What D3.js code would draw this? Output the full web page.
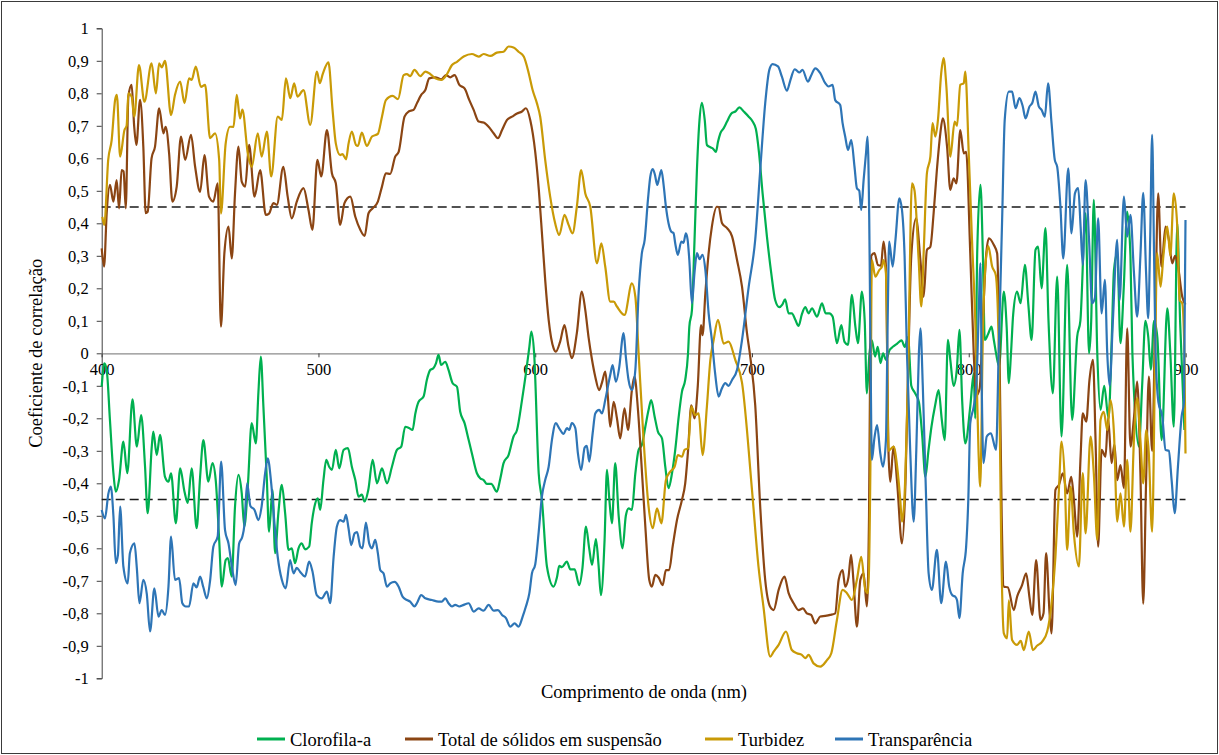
<!DOCTYPE html>
<html>
<head>
<meta charset="utf-8">
<script src="https://cdn.jsdelivr.net/npm/d3@7"></script>
<style>
  html, body { margin: 0; padding: 0; background: #fff; }
  svg { display: block; }
</style>
</head>
<body>
<svg id="chart" width="1219" height="755"></svg>
<script>
// Correlation between reflectance and water-quality parameters, 400–900 nm
const seriesNames = ["Clorofila-a", "Total de sólidos em suspensão", "Turbidez", "Transparência"];
const seriesColors = ["#00b050", "#8b4513", "#c99a06", "#2e75b6"];
const xTicks = [400, 500, 600, 700, 800, 900];
const yTicks = [-1, -0.9, -0.8, -0.7, -0.6, -0.5, -0.4, -0.3, -0.2, -0.1, 0, 0.1, 0.2, 0.3, 0.4, 0.5, 0.6, 0.7, 0.8, 0.9, 1];
const thresholds = [0.45, -0.45];

// [wavelength (nm), r]
const clorofila = [[400,-0.103],[401.2,-0.031],[402.3,-0.051],[403.8,-0.205],[405.4,-0.369],[406.5,-0.426],[408,-0.39],[410,-0.272],[411.8,-0.369],[414.2,-0.142],[416.2,-0.287],[418.2,-0.19],[420,-0.349],[421.2,-0.492],[423.1,-0.287],[423.8,-0.241],[425.4,-0.313],[426.9,-0.251],[429.2,-0.38],[430.8,-0.395],[432,-0.369],[434.2,-0.523],[436.2,-0.354],[438.2,-0.426],[439.7,-0.46],[441.5,-0.354],[443.8,-0.538],[445.4,-0.38],[446.9,-0.267],[449.2,-0.395],[451.1,-0.338],[452.6,-0.39],[454.2,-0.574],[455.4,-0.718],[457.2,-0.636],[458.2,-0.63],[460,-0.687],[461.5,-0.472],[463.1,-0.374],[464.6,-0.43],[465.8,-0.533],[467.4,-0.41],[469.2,-0.215],[471.1,-0.277],[472.3,-0.12],[473.4,-0.01],[474.6,-0.164],[476.2,-0.39],[477.2,-0.549],[478.8,-0.42],[480,-0.615],[481.5,-0.492],[483.1,-0.405],[484.6,-0.49],[486.2,-0.605],[487.7,-0.6],[489.2,-0.646],[490.8,-0.6],[492.3,-0.585],[493.8,-0.603],[495.7,-0.595],[496.9,-0.523],[498.5,-0.462],[499.7,-0.446],[500.8,-0.482],[502.3,-0.39],[503.6,-0.328],[505,-0.35],[506.2,-0.359],[508,-0.297],[509.6,-0.354],[511.6,-0.297],[513.6,-0.292],[515.4,-0.349],[517,-0.39],[518.5,-0.441],[520,-0.435],[521.3,-0.456],[523,-0.42],[525,-0.328],[527,-0.4],[529.3,-0.354],[531.6,-0.4],[533.9,-0.349],[536.2,-0.297],[538.2,-0.287],[540,-0.226],[541.8,-0.23],[543.4,-0.236],[544.7,-0.185],[546.2,-0.149],[548.5,-0.133],[550,-0.082],[551.6,-0.051],[553,-0.046],[554.2,-0.031],[555.4,-0.005],[556.6,-0.036],[558.5,-0.026],[560,-0.051],[561.9,-0.092],[563.9,-0.103],[565.4,-0.18],[567.4,-0.215],[569.3,-0.267],[570.8,-0.308],[573.1,-0.369],[574.7,-0.385],[576.2,-0.39],[577.7,-0.402],[579.7,-0.402],[582.3,-0.426],[583.9,-0.385],[585.4,-0.338],[587.7,-0.313],[590,-0.256],[591.6,-0.236],[593.9,-0.144],[595.7,-0.062],[597.3,0.02],[598.2,0.067],[599.5,0],[601.6,-0.369],[603.1,-0.451],[605.4,-0.656],[608.5,-0.718],[610,-0.69],[611.1,-0.654],[612.3,-0.658],[614.6,-0.641],[616.2,-0.665],[618.2,-0.665],[620.3,-0.713],[621.8,-0.66],[623.4,-0.533],[624.9,-0.6],[626.2,-0.651],[628,-0.572],[629.2,-0.65],[630.3,-0.744],[632,-0.574],[633.1,-0.359],[634.2,-0.45],[635.4,-0.523],[636.9,-0.338],[638.5,-0.5],[640.3,-0.6],[641.8,-0.5],[643.1,-0.477],[644.6,-0.482],[646.2,-0.369],[647.7,-0.297],[649.2,-0.282],[650.8,-0.226],[652.3,-0.174],[653.5,-0.144],[655.1,-0.195],[656.6,-0.241],[658.5,-0.262],[660,-0.349],[661.5,-0.415],[663.1,-0.369],[664.6,-0.297],[666.2,-0.195],[667.7,-0.118],[669.2,-0.082],[670.5,0],[671.1,0.082],[672.3,0.133],[673.5,0.349],[674.6,0.564],[675.8,0.718],[676.9,0.771],[678.2,0.718],[679.2,0.641],[680.8,0.634],[682,0.63],[683.4,0.62],[684.3,0.65],[685.4,0.677],[686.9,0.692],[688.5,0.713],[690.5,0.738],[692.3,0.744],[694.2,0.757],[696.2,0.744],[698.5,0.728],[700.3,0.713],[701.8,0.69],[703.2,0.62],[704.9,0.492],[706.9,0.359],[708.9,0.246],[710.7,0.164],[712.6,0.142],[714,0.15],[715.3,0.166],[716.9,0.123],[718.4,0.123],[720,0.103],[721.5,0.084],[723,0.12],[724.6,0.142],[726.1,0.123],[727.7,0.138],[730,0.113],[732.3,0.154],[734,0.123],[735.7,0.123],[737.2,0.113],[739.2,0.031],[741.2,0.087],[742.7,0.035],[744.3,0.026],[746.1,0.18],[747.7,0.082],[748.9,0.031],[750.7,0.19],[752,0.1],[753,-0.123],[754.2,0],[755.3,0.04],[756.8,-0.01],[758,0.02],[759.3,-0.03],[760.5,0],[761.8,-0.02],[763.5,0.01],[765,0.02],[767,0.03],[769,0.04],[770.5,0.02],[772,0.05],[773.5,-0.1],[775,-0.12],[777,-0.15],[778.5,-0.25],[780,-0.38],[781.4,-0.3],[782.8,-0.226],[784.5,-0.16],[786.1,-0.113],[787.5,-0.2],[788.9,-0.267],[790.4,0.041],[791.5,-0.02],[793,-0.1],[794.5,-0.05],[795.7,0.072],[797,-0.15],[798.4,-0.277],[800.7,-0.164],[802.3,-0.062],[803,-0.2],[803.9,0.308],[805.4,0.518],[806.5,0.308],[807.4,0.041],[809,0.06],[810.5,0.082],[811.6,0.04],[812.6,0],[814,-0.04],[816.2,0.19],[817.5,0.08],[818.5,-0.092],[819.5,0],[820.5,0.12],[822.3,0.19],[823.9,0.154],[825.9,0.272],[827.5,0.15],[829,0.041],[830.8,0.318],[832,0.328],[833.6,0.2],[835.4,0.385],[836.8,0.1],[838.8,-0.123],[840.8,0.236],[842.8,-0.256],[845.4,0.272],[847.7,-0.205],[850,0.05],[851.5,0.1],[853.9,0.431],[855.5,0],[856.5,0.1],[857.7,0.472],[859.3,0],[860.8,-0.174],[862.5,-0.1],[864.5,-0.2],[866,0.05],[867,0.256],[868.5,0.308],[870,0.031],[871.5,0.2],[873.1,0.436],[874.6,0.3],[875.5,0],[878.5,-0.287],[880,-0.1],[881.5,0.1],[882.8,0.051],[884,-0.05],[885.5,0.1],[887,0.05],[889,-0.267],[891.6,0.138],[893,0],[894.6,-0.226],[896.2,0.4],[897.5,0.1],[899.5,-0.236]];

const solidos = [[400,0.323],[401.1,0.267],[402.3,0.431],[403.8,0.518],[405.4,0.467],[406.9,0.533],[408,0.446],[409.2,0.564],[410.1,0.56],[411.1,0.446],[412.3,0.79],[413.8,0.826],[415,0.697],[416,0.641],[417.7,0.78],[419.2,0.636],[420.3,0.431],[421.2,0.435],[423,0.6],[424.6,0.636],[426.5,0.754],[428.5,0.677],[429.5,0.697],[431.1,0.615],[432.6,0.467],[434.6,0.513],[436.6,0.667],[438.5,0.595],[441.2,0.672],[443.1,0.574],[445.4,0.497],[447.4,0.61],[449.5,0.482],[451.5,0.467],[453.5,0.523],[455,0.082],[456.6,0.308],[458.5,0.39],[460,0.292],[461.5,0.492],[463.1,0.636],[464.6,0.528],[466.2,0.513],[468,0.641],[470.5,0.482],[473.1,0.564],[475.7,0.426],[477.2,0.43],[479.2,0.462],[480.8,0.457],[483.8,0.574],[485.8,0.482],[487.7,0.415],[490,0.467],[493.1,0.508],[495.4,0.441],[497.2,0.38],[499.5,0.595],[501.3,0.544],[503.9,0.687],[506.2,0.554],[508,0.523],[510,0.395],[512,0.462],[514.7,0.482],[517,0.42],[519.3,0.38],[521.3,0.361],[523.1,0.431],[525,0.446],[527.4,0.467],[529.3,0.513],[531.1,0.554],[533.1,0.552],[535.4,0.605],[537,0.62],[539.7,0.728],[541.6,0.744],[543.9,0.749],[545.4,0.769],[547.4,0.795],[549.3,0.81],[551.1,0.846],[553.9,0.849],[556.7,0.843],[558.8,0.856],[560.8,0.849],[562.8,0.856],[565,0.826],[567.4,0.815],[569.6,0.779],[571.6,0.749],[573.9,0.713],[576.2,0.71],[578.5,0.697],[580.8,0.677],[582.8,0.662],[584.7,0.687],[587,0.718],[589.3,0.728],[591.6,0.738],[593.9,0.744],[595.7,0.754],[597.7,0.718],[600,0.62],[601.7,0.5],[603.2,0.36],[604.6,0.226],[606.2,0.103],[608.5,0.015],[609.5,0.005],[611.5,0.036],[613.5,0.087],[615.4,0.02],[616.9,-0.015],[619.2,0.062],[621.5,0.19],[623.1,0.133],[624.6,0.05],[626.2,-0.02],[627.7,-0.072],[629.5,-0.113],[630.8,-0.09],[632.3,-0.056],[633.5,-0.133],[634.6,-0.226],[636.2,-0.149],[637.7,-0.2],[639.2,-0.262],[641.2,-0.169],[642.8,-0.236],[644.6,-0.113],[645.8,-0.072],[647.4,-0.174],[648.9,-0.328],[650.8,-0.533],[652.6,-0.697],[653.8,-0.718],[655.4,-0.682],[656.9,-0.69],[658.8,-0.713],[660.3,-0.667],[661.8,-0.667],[663.4,-0.595],[665.4,-0.513],[667.7,-0.451],[669.2,-0.4],[670.5,-0.3],[672,-0.16],[673.5,-0.2],[675,-0.1],[676.5,0.087],[677.2,0.056],[678.5,0.185],[680,0.308],[681.5,0.39],[683.8,0.451],[684.6,0.45],[686.2,0.4],[688.5,0.385],[690.8,0.36],[693.1,0.287],[695.4,0.205],[697.7,0.062],[699.2,-0.01],[701.5,-0.16],[703.8,-0.472],[706.1,-0.697],[708.4,-0.78],[710,-0.79],[712.3,-0.728],[715,-0.687],[716.9,-0.738],[719.2,-0.769],[721.5,-0.79],[723.5,-0.785],[725.3,-0.8],[727.3,-0.805],[729.2,-0.831],[731.5,-0.81],[733.8,-0.808],[736.1,-0.805],[738.4,-0.8],[740,-0.697],[741.8,-0.667],[743,-0.718],[744.5,-0.69],[745.7,-0.62],[746.9,-0.708],[748.4,-0.841],[750,-0.697],[751.5,-0.677],[753,-0.779],[754,-0.5],[755,0.3],[756.5,0.308],[758.1,0.272],[759.5,0.27],[760.7,0.344],[761.8,0.267],[763,-0.308],[763.8,-0.395],[765.3,-0.287],[767,-0.4],[769.2,-0.585],[770.8,-0.4],[772,-0.062],[773.5,0.3],[775.7,0.415],[777.7,0.287],[779.2,0.174],[780.7,0.318],[782.3,0.328],[783.8,0.431],[785.3,0.564],[786.9,0.677],[788,0.723],[790,0.636],[791.5,0.503],[793,0.538],[794.3,0.523],[796.1,0.687],[797.7,0.615],[798.8,0.62],[800.7,0.308],[802.3,0],[803.5,-0.13],[805,-0.11],[806.5,0.1],[808,0.3],[809.3,0.354],[811.6,0.333],[813.1,0.308],[814.2,0],[815.2,-0.5],[816.2,-0.718],[818,-0.72],[820.8,-0.79],[822.3,-0.749],[824.6,-0.713],[826.5,-0.677],[828,-0.75],[829.3,-0.805],[831.1,-0.636],[833.1,-0.82],[834.5,-0.8],[835.7,-0.615],[837.3,-0.8],[838.2,-0.862],[840,-0.42],[841.6,-0.405],[843.4,-0.369],[845.4,-0.431],[847.3,-0.38],[848.5,-0.45],[850,-0.564],[851.6,-0.318],[852.6,-0.185],[854.2,-0.21],[855.7,-0.082],[857.3,-0.02],[858.5,-0.267],[859.7,-0.595],[861.3,-0.297],[863.1,-0.318],[864.3,-0.2],[865.9,-0.338],[867.2,-0.28],[868.5,-0.39],[870,-0.344],[871.6,-0.415],[873.1,0.077],[874.6,-0.287],[876.2,-0.2],[877.7,-0.087],[879.2,-0.369],[880.5,-0.77],[881.8,-0.4],[883.1,-0.072],[884.6,-0.3],[886,0.1],[887.4,0.492],[888.9,0.267],[890.8,0.39],[892.3,0.35],[893.9,0.277],[895.2,0.3],[896.5,0.27],[898.5,0.174],[900,0.15]];

const turbidez = [[400.3,0.42],[401.2,0.395],[403,0.595],[404.6,0.656],[406.2,0.78],[407,0.795],[408.5,0.605],[410.5,0.687],[411.5,0.7],[412.3,0.8],[413.8,0.79],[415,0.728],[417.2,0.887],[419.7,0.774],[423,0.892],[425,0.8],[426.5,0.892],[427.7,0.88],[429.2,0.9],[432,0.733],[433.8,0.795],[436.2,0.836],[438.2,0.77],[440.3,0.846],[441.5,0.841],[443.4,0.882],[445.8,0.82],[447.7,0.826],[450,0.662],[452.3,0.677],[454.2,0.595],[455,0.43],[457.2,0.646],[459.2,0.697],[460.8,0.697],[462.3,0.795],[463.8,0.723],[464.9,0.75],[467.4,0.615],[469.2,0.574],[472,0.677],[473.8,0.605],[476.2,0.682],[478.2,0.544],[481.2,0.728],[483.1,0.718],[485,0.846],[487,0.785],[488.8,0.831],[490.3,0.79],[493.1,0.81],[496.2,0.703],[499.3,0.867],[500.6,0.831],[502,0.86],[504.6,0.895],[506.5,0.749],[508,0.646],[510,0.61],[511.1,0.613],[512.7,0.597],[513.9,0.646],[515.4,0.682],[517.3,0.641],[518.2,0.638],[520,0.679],[522.3,0.638],[524.7,0.667],[527.4,0.675],[529.3,0.728],[531.1,0.779],[534.2,0.792],[536.7,0.782],[539.3,0.856],[540.8,0.859],[542.3,0.853],[544.3,0.872],[547,0.853],[549.3,0.867],[551.6,0.859],[553.9,0.846],[556.7,0.841],[559.3,0.859],[561.6,0.887],[563.9,0.897],[567,0.913],[570.8,0.921],[573.9,0.913],[576.2,0.921],[579.3,0.915],[582.3,0.925],[585.4,0.928],[587.7,0.944],[590,0.941],[592.3,0.928],[594.7,0.913],[597,0.862],[598.8,0.81],[600.8,0.769],[602.3,0.728],[604.6,0.595],[606.9,0.482],[609.2,0.4],[611.1,0.364],[613.5,0.426],[615.4,0.395],[617.2,0.369],[619.2,0.451],[621.2,0.564],[623.1,0.492],[625.4,0.451],[628.5,0.277],[630.5,0.338],[632.3,0.267],[634.6,0.159],[636.2,0.159],[637.7,0.144],[641.2,0.118],[644.6,0.215],[646.2,0.174],[647.7,0],[650,-0.267],[652.3,-0.472],[654.2,-0.538],[656.2,-0.477],[658.2,-0.523],[660.3,-0.39],[662.3,-0.364],[664.3,-0.349],[665.8,-0.313],[667.7,-0.318],[668.9,-0.297],[670.5,-0.292],[672,-0.164],[673.8,-0.19],[675.4,-0.185],[677.2,-0.313],[679.2,-0.164],[680.8,-0.02],[682.3,0.04],[684.3,0.103],[686.9,0.03],[689.2,0.036],[692.3,-0.02],[695.4,-0.09],[700,-0.42],[703,-0.656],[705.3,-0.78],[708.4,-0.933],[710,-0.918],[712.3,-0.897],[715.7,-0.856],[718.4,-0.913],[720.7,-0.923],[723,-0.928],[724.6,-0.938],[726.1,-0.928],[728.4,-0.954],[731.5,-0.964],[734.6,-0.944],[736.6,-0.923],[739.2,-0.82],[741.8,-0.728],[743.8,-0.738],[746.1,-0.759],[748.4,-0.697],[750.4,-0.626],[752.3,-0.728],[753.5,-0.738],[754.6,-0.37],[755.3,0.287],[756.9,0.236],[758.7,0.256],[760,0.267],[760.7,0.287],[761.8,0.246],[763,-0.3],[765.3,-0.287],[767,-0.35],[768.4,-0.45],[769.2,-0.518],[770.3,-0.45],[772,-0.062],[773.8,0.523],[775,0.5],[776.9,0.287],[778.1,0.144],[779.2,0.308],[780.7,0.554],[782.3,0.605],[783.3,0.708],[784.6,0.667],[785.8,0.718],[787.3,0.862],[788.4,0.908],[789.7,0.82],[791.5,0.605],[793.5,0.713],[794.6,0.7],[796.1,0.826],[797.7,0.831],[798.4,0.867],[800,0.615],[801.5,0.349],[803,0.103],[804.5,-0.3],[805.3,-0.41],[806.5,0.05],[807.5,0.25],[809,0.33],[810.8,0.267],[812.5,0.24],[813.9,0],[815,-0.6],[816.2,-0.862],[817.7,-0.877],[818.5,-0.76],[820,-0.882],[822.3,-0.897],[824,-0.885],[825.4,-0.913],[827.7,-0.856],[829.6,-0.913],[831.5,-0.9],[833.9,-0.887],[836.2,-0.856],[838.2,-0.77],[840,-0.626],[841.6,-0.42],[842.8,-0.272],[844.3,-0.39],[845.4,-0.605],[847,-0.41],[848.5,-0.554],[850.8,-0.656],[852.6,-0.369],[853.9,-0.554],[856.2,-0.256],[857.7,-0.369],[859.3,-0.574],[860.8,-0.205],[862.3,-0.18],[863.9,-0.236],[865.4,-0.144],[867,-0.246],[868.5,-0.518],[870,-0.431],[871.6,-0.533],[873.1,-0.328],[874.6,-0.549],[876.2,-0.267],[877.7,-0.138],[879.2,-0.267],[880.5,-0.4],[881.9,-0.236],[883,-0.3],[884.6,-0.549],[886,0],[886.9,0.308],[888.5,0.205],[889.8,0.3],[891.6,0.39],[893,0.3],[894.6,0.492],[896.2,0.39],[897.3,0.164],[898.5,0.154],[899.5,0],[900,-0.308]];

const transparencia = [[400,-0.482],[401.5,-0.508],[403.1,-0.431],[404.2,-0.41],[405.4,-0.5],[406.5,-0.646],[407.5,-0.62],[408.5,-0.472],[410,-0.656],[412,-0.708],[413,-0.615],[415.1,-0.585],[416.2,-0.66],[417.4,-0.769],[419.2,-0.697],[420.8,-0.74],[422.3,-0.856],[424.3,-0.723],[426.2,-0.81],[427.7,-0.79],[429.2,-0.805],[430.8,-0.718],[432,-0.564],[433.8,-0.697],[435.7,-0.692],[437.2,-0.769],[438.8,-0.779],[440.3,-0.779],[442.3,-0.708],[443.8,-0.72],[445.4,-0.687],[446.9,-0.72],[448.5,-0.754],[450,-0.7],[451.5,-0.595],[453.5,-0.564],[455.1,-0.333],[456.9,-0.544],[458.5,-0.585],[460.3,-0.667],[461.8,-0.713],[463.4,-0.585],[464.9,-0.564],[465.8,-0.53],[467.1,-0.4],[468.6,-0.47],[470.5,-0.482],[472.3,-0.513],[473.8,-0.47],[475.4,-0.369],[476.6,-0.323],[478.2,-0.4],[479.7,-0.523],[481.2,-0.626],[483.1,-0.697],[484.9,-0.723],[486.9,-0.636],[488.5,-0.677],[490,-0.66],[491.5,-0.672],[493.8,-0.687],[495.7,-0.641],[497.2,-0.67],[499.2,-0.744],[501.5,-0.754],[503.9,-0.733],[505.4,-0.769],[507,-0.626],[508.5,-0.533],[510,-0.513],[511.6,-0.518],[512.7,-0.497],[513.9,-0.54],[515.1,-0.59],[516.7,-0.554],[517.8,-0.55],[519.3,-0.595],[520.3,-0.6],[521.9,-0.521],[523.4,-0.585],[524.7,-0.6],[526.2,-0.574],[527.4,-0.615],[528.5,-0.667],[530,-0.677],[531.6,-0.718],[533.1,-0.708],[535.1,-0.703],[537,-0.718],[538.8,-0.749],[540.8,-0.759],[542.3,-0.764],[544.3,-0.779],[545.4,-0.769],[547.4,-0.744],[549.3,-0.754],[552.3,-0.759],[555.4,-0.764],[557,-0.764],[558.5,-0.754],[560,-0.769],[561.6,-0.779],[563.1,-0.774],[565,-0.779],[567,-0.774],[569.3,-0.769],[571.6,-0.795],[573.9,-0.785],[576.2,-0.792],[578.5,-0.774],[580.8,-0.792],[582.8,-0.79],[584.7,-0.805],[586.5,-0.815],[588.5,-0.841],[590.5,-0.831],[592.3,-0.841],[594.2,-0.81],[595.7,-0.779],[597.3,-0.738],[598.5,-0.677],[600,-0.65],[601.6,-0.55],[603.1,-0.44],[604.6,-0.39],[606.2,-0.349],[607.7,-0.267],[609.5,-0.215],[611,-0.23],[613.1,-0.248],[614.6,-0.23],[615.7,-0.236],[616.9,-0.215],[618.5,-0.23],[619.7,-0.308],[621.2,-0.359],[622.8,-0.29],[623.8,-0.285],[624.9,-0.333],[626.5,-0.246],[627.7,-0.185],[629.5,-0.174],[630.8,-0.185],[632.3,-0.144],[633.5,-0.103],[634.6,-0.067],[635.7,-0.036],[637.2,-0.087],[638.8,-0.041],[640.3,0.05],[640.8,0.062],[641.8,-0.01],[643,-0.08],[644.6,-0.113],[646.2,-0.05],[647.7,0.185],[649.2,0.308],[650.5,0.349],[652,0.472],[653.1,0.544],[654.2,0.567],[655.2,0.55],[656.3,0.518],[657.2,0.54],[658.2,0.564],[659.2,0.52],[660.3,0.451],[661.5,0.4],[662.8,0.374],[663.8,0.37],[664.6,0.338],[665.8,0.303],[667.4,0.344],[668.4,0.34],[669.5,0.369],[670.3,0.35],[671.1,0.287],[672.3,0.154],[673.5,0.25],[674.6,0.308],[675.8,0.29],[677.2,0.303],[678.5,0.256],[680,0.123],[681.5,0.041],[683,-0.062],[684.6,-0.133],[686,-0.11],[687.7,-0.092],[689.2,-0.1],[690.8,-0.082],[693.1,-0.051],[695.4,0.041],[698.5,0.205],[701.5,0.35],[703.8,0.564],[706.1,0.769],[708,0.872],[709.5,0.89],[712,0.883],[713.8,0.851],[716.1,0.808],[717.7,0.84],[719.7,0.874],[720.7,0.87],[721.8,0.864],[723.3,0.872],[725.8,0.836],[727.3,0.855],[729.2,0.877],[731.5,0.862],[733.8,0.831],[735.3,0.821],[737.2,0.826],[738.4,0.779],[740.7,0.764],[741.8,0.708],[743,0.667],[744.3,0.626],[745.8,0.656],[747.3,0.574],[748.4,0.508],[749.5,0.5],[750.4,0.441],[751.5,0.533],[752.6,0.615],[753.3,0.667],[754.1,0.41],[754.7,0],[755.3,-0.328],[756.5,-0.26],[757.7,-0.221],[759.2,-0.308],[760.4,-0.349],[761.8,-0.267],[762.6,0.1],[763.3,0.344],[764.9,0.267],[766.2,0.35],[768,0.477],[769.2,0.441],[770.4,0.3],[771.5,0],[773,-0.3],[774.6,-0.518],[775.8,-0.3],[777,0],[777.7,0.077],[778.8,-0.1],[780,-0.369],[781.5,-0.677],[783,-0.728],[785.3,-0.605],[787.3,-0.769],[789.5,-0.641],[791,-0.718],[792.5,-0.745],[793.8,-0.749],[794.6,-0.76],[795.7,-0.815],[797.2,-0.677],[798.8,-0.595],[799.8,-0.45],[800.7,-0.215],[802.3,-0.164],[803.5,-0.1],[804.5,0.1],[805.4,0.277],[806,-0.1],[806.8,-0.338],[808.3,-0.256],[810.2,-0.246],[812.6,-0.297],[813.8,0],[815.4,0.41],[816.6,0.718],[818.5,0.805],[820,0.805],[821.6,0.754],[823.4,0.785],[824.9,0.76],[826.2,0.723],[828,0.759],[829.3,0.77],[830.8,0.805],[832.3,0.76],[833.6,0.749],[835.1,0.728],[836.6,0.831],[838.2,0.708],[839.7,0.595],[840.8,0.574],[842.3,0.451],[843.6,0.292],[845.9,0.569],[847.4,0.369],[849,0.492],[850.5,0.508],[851.6,0.39],[852.6,0.272],[853.9,0.533],[855.5,0.35],[856.9,0.154],[858.2,0.17],[859.7,0.415],[861.3,0.123],[862.8,0.226],[863.9,0],[865,-0.1],[866.5,0.1],[868.5,0.349],[869.6,0.164],[871.6,0.482],[873.1,0.359],[874.6,0.426],[876.2,0.25],[877.7,0.113],[879.2,0.3],[880.5,0.494],[881.8,0.25],[882.8,0.108],[883.7,0.35],[884.6,0.672],[885.5,0.3],[886.2,0],[887.5,-0.15],[889.3,-0.195],[890.8,-0.297],[892.3,-0.3],[893.6,-0.39],[895,-0.492],[896.5,-0.35],[898.2,-0.195],[899.3,-0.15],[900,0.41]];

const seriesData = [clorofila, solidos, turbidez, transparencia];

const FONT = "'Liberation Serif', 'Tinos', 'Times New Roman', 'DejaVu Serif', serif";

const svg = d3.select("#chart");
const W = 1219, H = 755;
const plot = { left: 101.7, right: 1185.5, top: 28.3, bottom: 678.3 };

// outer frame
svg.append("rect")
  .attr("x", 1.5).attr("y", 1.5).attr("width", W - 3).attr("height", H - 3)
  .attr("fill", "#fff").attr("stroke", "#3a3a3a").attr("stroke-width", 1);

const x = d3.scaleLinear().domain([400, 900]).range([plot.left, plot.right]);
const y = d3.scaleLinear().domain([-1, 1]).range([plot.bottom, plot.top]);

// y axis on the left edge
const yAxis = d3.axisLeft(y).tickValues(yTicks).tickSize(5).tickPadding(8)
  .tickFormat(d => String(+d.toFixed(1)).replace(".", ","));
const gy = svg.append("g").attr("transform", `translate(${plot.left},0)`).call(yAxis)
  .attr("font-family", FONT).attr("font-size", 16.5);
gy.select(".domain").attr("stroke", "#404040").attr("stroke-width", 1);
gy.selectAll(".tick line").attr("stroke", "#404040");
gy.selectAll(".tick text").attr("fill", "#000");

// x axis crossing at r = 0
const xAxis = d3.axisBottom(x).tickValues(xTicks).tickSize(4).tickPadding(6).tickFormat(d3.format("d"));
const gx = svg.append("g").attr("transform", `translate(0,${y(0)})`).call(xAxis)
  .attr("font-family", FONT).attr("font-size", 16.5);
gx.select(".domain").attr("stroke", "#8c8c8c").attr("stroke-width", 1.2);
gx.selectAll(".tick line").attr("stroke", "#404040");
gx.selectAll(".tick text").attr("fill", "#000");

// significance thresholds
svg.append("g").selectAll("line").data(thresholds).join("line")
  .attr("x1", plot.left).attr("x2", plot.right)
  .attr("y1", d => y(d)).attr("y2", d => y(d))
  .attr("stroke", "#1a1a1a").attr("stroke-width", 1.4).attr("stroke-dasharray", "9,5");

// correlation curves
const line = d3.line().x(d => x(d[0])).y(d => y(d[1])).curve(d3.curveMonotoneX);
svg.append("g").selectAll("path").data(seriesData).join("path")
  .attr("d", line)
  .attr("fill", "none")
  .attr("stroke", (d, i) => seriesColors[i])
  .attr("stroke-width", 2.2)
  .attr("stroke-linejoin", "round");

// axis titles
svg.append("text").attr("x", 644).attr("y", 698).attr("text-anchor", "middle")
  .attr("font-family", FONT).attr("font-size", 18.5).text("Comprimento de onda (nm)");
svg.append("text").attr("transform", `translate(42,${y(0)}) rotate(-90)`).attr("text-anchor", "middle")
  .attr("font-family", FONT).attr("font-size", 18.5).text("Coeficiente de correlação");

// legend
const legendX = [257, 405, 705, 835];
const lg = svg.append("g").selectAll("g").data(seriesNames).join("g")
  .attr("transform", (d, i) => `translate(${legendX[i]},739)`);
lg.append("line").attr("x1", 0).attr("x2", 28).attr("y1", 0).attr("y2", 0)
  .attr("stroke", (d, i) => seriesColors[i]).attr("stroke-width", 3);
lg.append("text").attr("x", 33).attr("y", 6.5)
  .attr("font-family", FONT).attr("font-size", 18.5).text(d => d);
</script>
</body>
</html>
